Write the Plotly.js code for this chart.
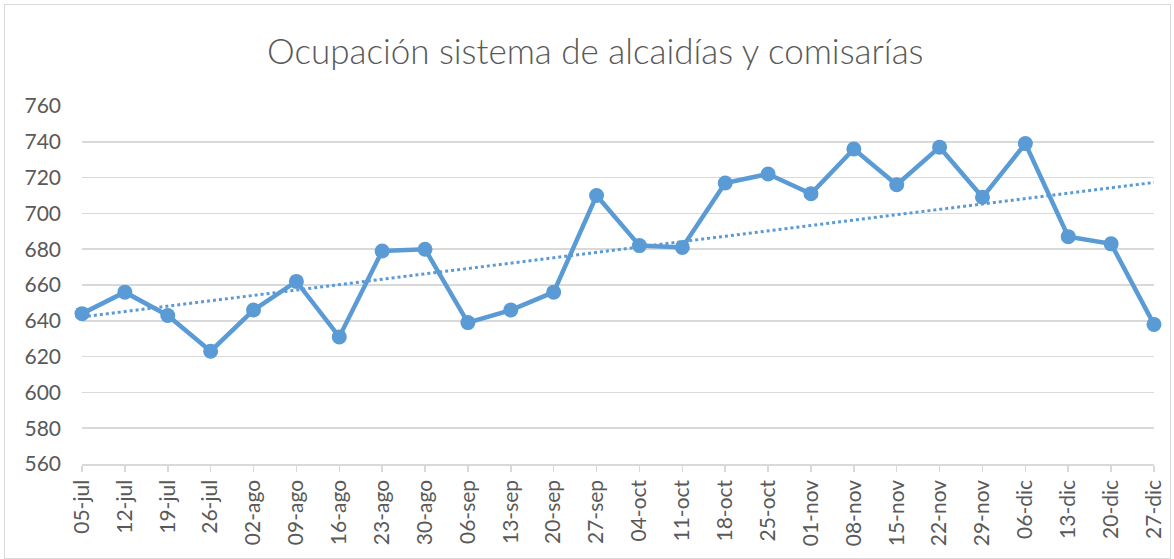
<!DOCTYPE html>
<html>
<head>
<meta charset="utf-8">
<script src="https://cdn.plot.ly/plotly-3.0.1.min.js"></script>
<style>
html,body{margin:0;padding:0;background:#fff;}
#wrap{position:relative;width:1174px;height:559px;}
#chart{width:1174px;height:559px;}
#border{position:absolute;left:4px;top:4px;width:1165px;height:553px;border:1px solid #d9d9d9;pointer-events:none;}
</style>
</head>
<body>
<div id="wrap"><div id="chart"></div><div id="border"></div></div>
<script>
const weeks = ["05-jul","12-jul","19-jul","26-jul","02-ago","09-ago","16-ago","23-ago","30-ago","06-sep","13-sep","20-sep","27-sep","04-oct","11-oct","18-oct","25-oct","01-nov","08-nov","15-nov","22-nov","29-nov","06-dic","13-dic","20-dic","27-dic"];
const occupancy = [644,656,643,623,646,662,631,679,680,639,646,656,710,682,681,717,722,711,736,716,737,709,739,687,683,638];
const yTicks = [560,580,600,620,640,660,680,700,720,740,760];

// linear trendline (least squares) computed from the series
const n = occupancy.length;
const idx = occupancy.map((_, i) => i);
const mx = idx.reduce((a,b)=>a+b,0)/n;
const my = occupancy.reduce((a,b)=>a+b,0)/n;
let sxy=0, sxx=0;
for (let i=0;i<n;i++){ sxy += (idx[i]-mx)*(occupancy[i]-my); sxx += (idx[i]-mx)**2; }
const slope = sxy/sxx, icpt = my - slope*mx;
const trend = idx.map(i => icpt + slope*i);

const color = '#5B9BD5';
const font = 'Lato, "Open Sans", sans-serif';

Plotly.newPlot('chart', [
  {
    x: weeks, y: trend, type: 'scatter', mode: 'lines',
    line: {color: color, width: 3, dash: 'dot'},
    hoverinfo: 'skip', showlegend: false, cliponaxis: false
  },
  {
    x: weeks, y: occupancy, type: 'scatter', mode: 'lines+markers',
    line: {color: color, width: 4.5},
    marker: {color: color, size: 15},
    showlegend: false, cliponaxis: false
  }
], {
  width: 1174, height: 559,
  margin: {l: 82, r: 20, t: 106, b: 95},
  paper_bgcolor: '#fff', plot_bgcolor: '#fff',
  title: {text: 'Ocupación sistema de alcaidías y comisarías', x: 0.507, xanchor: 'center', y: 0.907, yanchor: 'middle',
          font: {family: font, size: 35, color: '#595959', weight: 300}},
  xaxis: {
    type: 'category', range: [0, n-1], showgrid: false,
    showline: true, linecolor: '#d9d9d9', linewidth: 1.5,
    ticks: 'outside', ticklen: 6, tickcolor: '#d9d9d9', tickwidth: 1.5,
    tickangle: -90, tickfont: {family: font, size: 21, color: '#595959'},
    zeroline: false, fixedrange: true
  },
  yaxis: {
    range: [560, 760], tickvals: yTicks, ticktext: yTicks.map(String),
    showgrid: true, gridcolor: '#d9d9d9', gridwidth: 1.5,
    showline: false, zeroline: false, ticks: '', ticklabelstandoff: 20,
    tickfont: {family: font, size: 21, color: '#595959'}, fixedrange: true
  },
  font: {family: font}
}, {displayModeBar: false, staticPlot: true});
</script>
</body>
</html>
